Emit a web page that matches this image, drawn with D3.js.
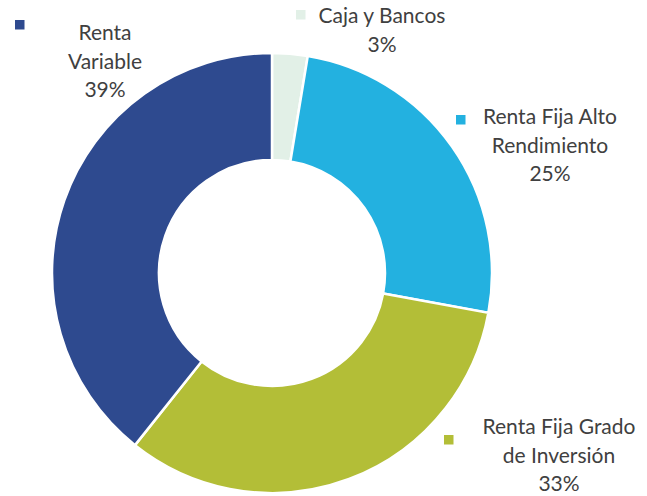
<!DOCTYPE html>
<html>
<head>
  <meta charset="utf-8">
  <script src="https://d3js.org/d3.v7.min.js"></script>
  <style>
    body { margin: 0; background: #fff; }
    text { font-family: Lato, "Open Sans", sans-serif; fill: #404040; }
  </style>
</head>
<body>
<script>
  // Chart data
  var categories = ["Caja y Bancos", "Renta Fija Alto Rendimiento", "Renta Fija Grado de Inversión", "Renta Variable"];
  var shares = [2.6, 25.3, 32.8, 39.3];
  var colors = ["#E2F0E7", "#23B1E0", "#B3BE37", "#2E4A8F"];
  // label lines (shown as in the picture)
  var labelLines = [
    ["Caja y Bancos"],
    ["Renta Fija Alto", "Rendimiento"],
    ["Renta Fija Grado", "de Inversión"],
    ["Renta", "Variable"]
  ];

  var width = 647, height = 496;
  var cx = 272, cy = 273, outerR = 220, innerR = 113;

  var svg = d3.select("body").append("svg")
      .attr("width", width)
      .attr("height", height);

  var data = categories.map(function(c, i) {
    return { name: c, value: shares[i], color: colors[i], lines: labelLines[i] };
  });

  var pie = d3.pie().sort(null).value(function(d) { return d.value; });
  var arc = d3.arc().innerRadius(innerR).outerRadius(outerR);

  var g = svg.append("g").attr("transform", "translate(" + cx + "," + cy + ")");
  g.selectAll("path")
    .data(pie(data))
    .enter().append("path")
    .attr("d", arc)
    .attr("fill", function(d) { return d.data.color; })
    .attr("stroke", "#fff")
    .attr("stroke-width", 2.5);

  // Data labels with legend keys (placed like the original)
  var total = d3.sum(shares);
  var labelPos = [
    { x: 382, y: 23, key: [296, 10] },
    { x: 550, y: 124, key: [456, 115] },
    { x: 559, y: 434, key: [444, 435] },
    { x: 105, y: 40, key: [15, 20] }
  ];
  var lineH = 28.5;

  data.forEach(function(d, i) {
    var p = labelPos[i];
    svg.append("rect")
      .attr("x", p.key[0]).attr("y", p.key[1])
      .attr("width", 9.5).attr("height", 9.5)
      .attr("fill", d.color);
    var t = svg.append("text")
      .attr("text-anchor", "middle")
      .style("font-size", "21px");
    var lines = d.lines.concat([Math.round(d.value / total * 100) + "%"]);
    lines.forEach(function(l, j) {
      t.append("tspan").attr("x", p.x).attr("y", p.y + j * lineH).text(l);
    });
  });
</script>
</body>
</html>
